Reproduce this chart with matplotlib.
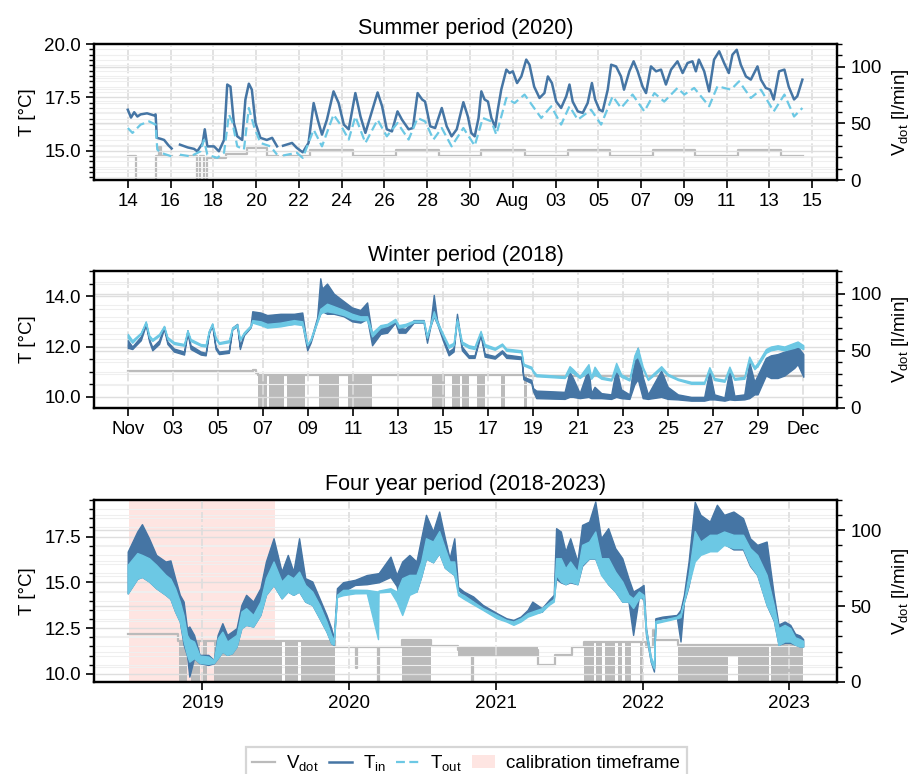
import numpy as np
import pandas as pd
import matplotlib
matplotlib.use('Agg')
import matplotlib.pyplot as plt
from matplotlib.ticker import MultipleLocator, FormatStrFormatter
from matplotlib.lines import Line2D
from matplotlib.patches import Patch

plt.rcParams['font.family'] = ['Liberation Sans', 'DejaVu Sans']
plt.rcParams['mathtext.fontset'] = 'custom'
plt.rcParams['mathtext.rm'] = 'Liberation Sans'
plt.rcParams['mathtext.it'] = 'Liberation Sans'
plt.rcParams['mathtext.default'] = 'regular'

C_IN = '#4575a4'
C_OUT = '#6cc8e4'
C_V = '#bbbbbb'
FS = 13.5

# ---------------- summer period (days after 2020-07-14) ----------------
summer_tin_day = [0.0, 0.15, 0.3, 0.45, 0.6, 0.9, 1.23, 1.3, 1.36, 1.55, 1.7, 1.9, 2.05, 2.25,
                  2.44, 2.8, 3.1, 3.25, 3.5, 3.6, 3.72, 4.03, 4.26, 4.5, 4.65, 4.8, 4.96, 5.12,
                  5.35, 5.5, 5.66, 5.8, 5.97, 6.2, 6.5, 6.75, 6.98, 7.1,
                  7.26, 7.68, 7.9, 8.18, 8.45, 8.69, 8.88, 9.08, 9.31, 9.62, 9.86, 10.1, 10.33,
                  10.64, 10.88, 11.11, 11.34, 11.68, 11.89, 12.11, 12.35, 12.61, 12.82, 13.13,
                  13.33, 13.55, 13.76, 13.9, 14.14, 14.37, 14.68, 14.91, 15.14, 15.38, 15.69,
                  15.9, 16.06, 16.22, 16.4, 16.53, 16.68, 16.84, 17.0, 17.18, 17.3, 17.46, 17.7,
                  17.85, 18.0, 18.2, 18.4, 18.63, 18.78, 19.0, 19.25, 19.48, 19.64, 19.83, 20.03,
                  20.26, 20.5, 20.65, 20.8, 21.04, 21.27, 21.5, 21.7, 21.85, 22.05, 22.2, 22.44,
                  22.6, 22.83, 23.06, 23.2, 23.45, 23.65, 23.84, 24.07, 24.23, 24.46, 24.7, 24.93,
                  25.16, 25.4, 25.7, 25.94, 26.17, 26.4, 26.56, 26.7, 26.95, 27.18, 27.41, 27.65,
                  27.88, 28.1, 28.27, 28.47, 28.66, 28.9, 29.13, 29.44, 29.6, 29.83, 30.03, 30.2,
                  30.45, 30.7, 30.9, 31.15, 31.3, 31.54]
summer_tin = [16.92, 16.55, 16.8, 16.6, 16.7, 16.75, 16.65, 16.7, 15.6, 15.55, 15.5, 15.25, 15.1, np.nan,
              15.28, 15.15, 15.08, 14.97, 15.35, 16.0, 15.2, 15.2, 14.97, 15.5, 18.1, 18.0, 16.3, 15.67,
              15.5, 17.4, 18.14, 17.86, 16.3, 15.6, 15.5, 15.6, 15.2, np.nan,
              15.23, 15.36, 15.13, 14.92, 15.36, 17.23, 16.45, 15.75, 16.45, 17.78, 17.23, 16.22, 16.0,
              17.7, 16.6, 15.83, 16.6, 17.73, 17.08, 16.0, 15.9, 16.84, 16.45, 16.0,
              16.06, 17.7, 17.4, 17.3, 16.14, 16.06, 17.0, 16.14, 15.67, 16.0, 17.27,
              16.6, 15.83, 15.67, 16.53, 17.78, 17.4, 17.3, 16.53, 16.1, 16.92, 17.86, 18.8,
              18.64, 18.72, 18.17, 18.48, 19.27, 19.03, 18.0, 17.47, 17.7, 18.48, 18.17, 17.3,
              17.0, 17.55, 18.1, 17.3, 16.84, 16.77, 17.23, 18.17, 17.4, 16.92, 16.84, 17.86,
              19.03, 18.95, 18.48, 17.86, 18.72, 19.19, 18.72, 18.0, 17.7, 18.95, 18.72, 18.8,
              18.1, 18.8, 19.19, 18.64, 19.11, 19.19, 18.72, 19.27, 18.72, 17.78, 19.27, 19.66,
              19.11, 18.64, 19.5, 19.73, 19.03, 18.48, 18.33, 18.95, 18.33, 17.94, 17.86, 17.4,
              18.72, 18.8, 18.0, 17.4, 17.55, 18.33]

summer_tout_day = [0.0, 0.22, 0.6, 1.0, 1.3, 1.38, 1.54, 2.05, 2.25, 2.44, 2.94, 3.4, 3.56, 3.72,
                   4.18, 4.5, 4.73, 4.88, 5.12, 5.43, 5.66, 5.9, 6.2, 6.67, 6.98, 7.1, 7.26, 7.9,
                   8.18, 8.69, 9.08, 9.62, 9.94, 10.33, 10.64, 11.11, 11.68, 12.11, 12.61, 13.13,
                   13.55, 13.9, 14.29, 14.68, 15.14, 15.69, 16.22, 16.6, 17.0, 17.23, 17.7, 18.08,
                   18.55, 18.94, 19.33, 19.8, 20.26, 20.65, 21.04, 21.66, 22.13, 22.67, 23.06,
                   23.6, 24.15, 24.62, 25.08, 25.7, 26.02, 26.48, 27.18, 27.57, 28.2, 28.58, 29.13,
                   29.6, 30.2, 30.7, 31.15, 31.54]
summer_tout = [16.06, 15.83, 16.22, 16.37, 16.22, 15.05, 14.9, 14.73, np.nan, 14.81, 14.73, 14.97, 15.5, 14.81,
               14.66, 14.9, 16.69, 16.37, 15.2, 15.05, 17.0, 16.14, 15.36, 15.2, 14.81, np.nan, 14.77, 14.9,
               14.66, 15.98, 15.2, 16.69, 16.22, 15.52, 16.6, 15.36, 16.45, 15.67, 16.3, 15.52,
               16.53, 16.37, 15.52, 16.06, 15.2, 16.06, 15.23, 16.53, 16.37, 15.75, 17.47, 17.23,
               17.63, 17.08, 16.53, 17.08, 16.22, 17.08, 16.45, 16.92, 16.22, 17.55, 17.0,
               17.63, 16.84, 17.7, 17.3, 17.94, 17.63, 17.94, 17.08, 18.02, 17.86, 18.25, 17.47,
               17.86, 16.84, 17.63, 16.6, 17.0]

summer_v_day = [0.0, 0.37, 1.34, 1.45, 1.55, 2.05, 2.44, 3.25, 3.4, 3.56, 3.72, 4.57, 5.58, 6.52,
                7.0, 7.26, 8.54, 10.53, 12.55, 14.53, 16.53, 18.55, 20.57, 22.55, 24.57, 26.53,
                28.53, 30.53, 31.58]
summer_v = [21, 0, 21, 29, 21, np.nan, 21, 0, 21, 0, 19.3, 23, 28.6, 21,
            np.nan, 21.3, 26.5, 21, 26.5, 21, 26.5, 21, 26.5, 21, 26.5, 21,
            26.5, 21, 21]

summer_tick_days = [0, 2, 4, 6, 8, 10, 12, 14, 16, 18, 20, 22, 24, 26, 28, 30, 32]
summer_tick_labels = ['14', '16', '18', '20', '22', '24', '26', '28', '30', 'Aug',
                      '03', '05', '07', '09', '11', '13', '15']

# ---------------- winter period (days after 2018-11-01) ----------------
winter_day = [0.0, 0.2, 0.58, 0.8, 0.95, 1.09, 1.39, 1.61, 1.76, 2.05, 2.5, 2.65, 2.79, 3.24, 3.46,
              3.6, 3.75, 3.9, 4.05, 4.49, 4.64, 4.86, 4.98, 5.16, 5.45, 5.53, 5.9, 6.19, 6.78,
              7.38, 7.75, 7.97, 8.12, 8.41, 8.55, 8.63, 8.85, 9.15, 9.59, 9.96, 10.33, 10.63,
              10.85, 11.22, 11.52, 11.88, 12.03, 12.33, 12.7, 13.14, 13.29, 13.44, 13.59, 13.74,
              14.03, 14.25, 14.47, 14.62, 14.84, 15.14, 15.4, 15.67, 15.85, 16.3, 16.62, 16.81,
              17.48, 17.57, 17.92, 18.0, 18.14, 19.4, 19.62, 19.77, 20.07, 20.46, 20.58, 20.73,
              21.03, 21.47, 21.69, 21.91, 22.28, 22.5, 22.65, 22.87, 23.1, 23.69, 23.98, 24.43,
              25.02, 25.6, 25.83, 26.05, 26.5, 26.72, 26.94, 27.38, 27.6, 27.83, 27.97, 28.34,
              28.56, 28.86, 29.16, 29.6, 29.75, 30.0]
winter_tin_lo = [11.95, 11.9, 12.25, 12.85, 12.2, 11.85, 12.1, 12.7, 12.1, 11.8, 11.68, 12.55, 11.9, 11.68, 11.65,
                 12.5, 12.85, 11.9, 11.7, 11.75, 12.68, 12.8, 11.9, 12.45, 12.75, 13.0, 12.95, 12.8, 12.85,
                 12.9, 12.9, 11.85, 12.15, 13.0, 13.3, 13.4, 13.3, 13.3, 13.2, 13.0, 12.95, 13.1,
                 12.05, 12.5, 12.55, 12.95, 12.55, 12.55, 12.95, 12.95, 12.15, 12.8, 13.2, 12.9,
                 12.15, 11.65, 11.8, 13.1, 11.85, 11.55, 11.55, 12.45, 11.6, 11.52, 11.75, 11.55,
                 11.5, 10.7, 10.55, 10.22, 9.95, 9.92, 10.0, 10.0, 9.95, 10.0, 9.95, 9.95,
                 9.95, 9.92, 10.0, 9.95, 9.92, 10.5, 10.7, 9.95, 9.92, 10.0, 9.92, 9.9,
                 9.85, 9.85, 9.9, 9.9, 9.85, 9.9, 9.88, 9.9, 9.95, 10.1, 10.1, 10.85,
                 10.75, 10.75, 10.85, 11.15, 11.3, 10.8]
winter_tin_hi = [12.25, 12.0, 12.4, 12.95, 12.3, 11.98, 12.25, 12.8, 12.2, 11.92, 11.8, 12.65, 12.05, 11.8, 11.75,
                 12.6, 12.9, 12.0, 11.8, 11.85, 12.75, 12.9, 12.0, 12.55, 12.82, 13.4, 13.35, 13.25, 13.3,
                 13.3, 13.35, 12.0, 12.25, 13.15, 14.71, 14.3, 14.5, 14.1, 13.8, 13.55, 13.45, 13.75,
                 12.45, 12.75, 12.8, 13.05, 12.75, 12.7, 13.05, 13.05, 12.3, 12.9, 14.05, 13.05,
                 12.3, 11.8, 11.95, 13.3, 12.0, 11.65, 11.65, 12.55, 11.72, 11.62, 11.85, 11.68,
                 11.6, 10.8, 10.68, 10.35, 10.25, 10.2, 11.0, 10.75, 10.15, 11.15, 10.15, 10.4,
                 10.15, 10.1, 11.15, 10.3, 10.1, 11.55, 11.95, 10.8, 10.1, 11.05, 10.4, 10.1,
                 10.0, 10.0, 11.05, 10.1, 9.98, 11.1, 10.05, 10.1, 11.4, 10.6, 10.85, 11.55,
                 11.65, 11.7, 11.8, 11.95, 12.0, 11.7]
winter_tout_lo = [12.35, 12.15, 12.5, 12.95, 12.35, 12.22, 12.42, 12.78, 12.3, 12.1, 12.03, 12.6, 12.22, 12.03, 12.0,
                  12.57, 12.87, 12.3, 12.1, 12.17, 12.7, 12.82, 12.25, 12.5, 12.78, 12.95, 12.85, 12.75, 12.8,
                  12.9, 12.85, 12.05, 12.25, 12.95, 13.3, 13.35, 13.4, 13.35, 13.25, 13.1, 13.05, 13.05,
                  12.4, 12.75, 12.82, 13.0, 12.75, 12.8, 12.97, 12.97, 12.35, 12.82, 13.25, 12.9,
                  12.35, 11.95, 12.05, 13.0, 12.1, 11.95, 11.9, 12.55, 12.0, 11.87, 12.05, 11.83,
                  11.77, 11.25, 11.12, 10.97, 10.82, 10.75, 11.0, 10.95, 10.75, 11.0, 10.72, 10.9,
                  10.72, 10.65, 11.05, 10.8, 10.65, 11.5, 11.6, 11.1, 10.67, 11.1, 10.85, 10.67,
                  10.52, 10.52, 11.05, 10.67, 10.6, 11.05, 10.68, 10.72, 11.45, 11.1, 11.22, 11.75,
                  11.85, 11.9, 11.85, 11.95, 12.0, 11.9]
winter_tout_hi = [12.5, 12.25, 12.55, 13.0, 12.45, 12.3, 12.5, 12.82, 12.38, 12.18, 12.1, 12.65, 12.3, 12.1, 12.08,
                  12.62, 12.92, 12.38, 12.17, 12.25, 12.76, 12.88, 12.3, 12.56, 12.83, 13.05, 13.0, 12.9, 12.95,
                  13.05, 13.0, 12.1, 12.3, 13.05, 13.5, 13.55, 13.7, 13.6, 13.45, 13.3, 13.2, 13.2,
                  12.55, 12.85, 12.9, 13.1, 12.85, 12.9, 13.03, 13.03, 12.45, 12.9, 13.4, 13.0,
                  12.45, 12.05, 12.15, 13.1, 12.2, 12.05, 12.0, 12.62, 12.1, 11.95, 12.12, 11.92,
                  11.85, 11.32, 11.2, 11.05, 10.9, 10.82, 11.22, 11.1, 10.82, 11.3, 10.8, 11.2,
                  10.8, 10.72, 11.35, 10.9, 10.72, 11.65, 11.95, 11.2, 10.73, 11.22, 10.92, 10.73,
                  10.6, 10.6, 11.18, 10.75, 10.68, 11.2, 10.75, 10.8, 11.6, 11.2, 11.35, 11.9,
                  12.0, 12.05, 12.0, 12.15, 12.2, 12.05]

winter_v_day = [0.0, 5.55, 5.7, 5.8, 17.8, 30.0]
winter_v = [32.7, 33.5, 31.0, 28.8, 28.0, 28.0]
winter_block_start = [5.79, 6.27, 7.08, 8.48, 9.77, 13.51, 14.4, 14.84, 15.51, 16.56, 17.6]
winter_block_end = [6.19, 6.93, 7.89, 9.37, 10.85, 14.1, 14.77, 15.14, 15.88, 16.77, 17.72]
winter_block_top = [29.2, 29.2, 29.2, 29.2, 29.2, 29.2, 29.2, 29.2, 29.2, 29.2, 29.2]

winter_tick_days = [0, 2, 4, 6, 8, 10, 12, 14, 16, 18, 20, 22, 24, 26, 28, 30]
winter_tick_labels = ['Nov', '03', '05', '07', '09', '11', '13', '15', '17', '19', '21',
                      '23', '25', '27', '29', 'Dec']

# ---------------- four year period (decimal years) ----------------
long_year = [2018.49, 2018.555, 2018.587, 2018.635, 2018.684, 2018.748, 2018.781, 2018.813, 2018.845,
             2018.871, 2018.894, 2018.91, 2018.942, 2018.98, 2019.039, 2019.077, 2019.103, 2019.135,
             2019.168, 2019.2, 2019.232, 2019.265, 2019.297, 2019.345, 2019.394, 2019.432, 2019.484,
             2019.539, 2019.581, 2019.619, 2019.658, 2019.7, 2019.748, 2019.797, 2019.845, 2019.877,
             2019.894, 2019.916, 2019.958, 2020.039, 2020.119, 2020.196, 2020.2, 2020.281, 2020.323,
             2020.361, 2020.41, 2020.458, 2020.49, 2020.523, 2020.571, 2020.613, 2020.652, 2020.684,
             2020.716, 2020.742, 2020.781, 2020.845, 2020.91, 2021.006, 2021.071, 2021.119, 2021.168,
             2021.216, 2021.248, 2021.313, 2021.361, 2021.394, 2021.41, 2021.442, 2021.474, 2021.506,
             2021.555, 2021.587, 2021.635, 2021.677, 2021.716, 2021.765, 2021.813, 2021.861, 2021.903,
             2021.935, 2021.974, 2022.006, 2022.023, 2022.055, 2022.077, 2022.087, 2022.135, 2022.232,
             2022.258, 2022.281, 2022.313, 2022.355, 2022.394, 2022.458, 2022.506, 2022.555, 2022.619,
             2022.684, 2022.732, 2022.781, 2022.845, 2022.894, 2022.926, 2022.968, 2023.006, 2023.039,
             2023.071, 2023.094]
long_tin_lo = [14.4, 15.2, 15.3, 15.05, 14.68, 14.32, 14.1, 13.41, 12.86,
               11.6, 11.0, 9.85, 10.86, 10.58, 10.49, 10.58, 10.86, 11.22,
               11.04, 11.13, 11.5, 12.5, 12.68, 12.59, 13.22, 14.32, 14.86,
               14.13, 14.5, 14.32, 14.5, 13.95, 13.77, 13.04, 12.31, 11.68,
               11.58, 14.2, 14.5, 14.86, 14.9, 15.0, 15.0, 15.3, 14.8,
               13.4, 14.5, 14.5, 15.3, 16.3, 16.1, 16.6, 15.8, 15.6,
               15.4, 14.6, 14.3, 14.0, 13.6, 13.2, 12.95, 12.86, 13.0,
               13.2, 13.3, 13.4, 13.9, 14.1, 15.2, 15.0, 14.9, 15.0,
               14.9, 15.9, 16.3, 16.3, 15.5, 14.9, 14.5, 13.95, 13.95,
               12.13, 14.2, 14.1, 12.13, 10.67, 10.13, 12.95, 13.04, 13.13,
               11.77, 13.9, 14.8, 16.5, 16.6, 16.8, 16.8, 17.1, 16.8,
               16.8, 15.9, 15.4, 13.77, 12.9, 11.6, 11.7, 11.7, 11.6,
               11.5, 11.5]
long_tin_hi = [16.68, 17.78, 18.18, 17.41, 16.5, 16.14, 16.2, 15.23, 14.32,
               13.95, 12.5, 12.59, 12.13, 11.04, 11.04, 10.76, 12.13, 12.77,
               12.13, 12.31, 12.5, 13.77, 14.32, 13.95, 14.68, 16.14, 17.41,
               15.59, 16.5, 15.59, 17.41, 15.23, 15.05, 14.13, 13.22, 12.5,
               11.95, 14.68, 15.01, 15.14, 15.4, 15.5, 15.5, 16.41, 15.41,
               16.14, 16.5, 16.14, 17.41, 18.69, 17.78, 18.87, 17.41, 16.32,
               17.41, 14.75, 14.5, 14.23, 13.77, 13.32, 13.04, 12.95, 13.13,
               13.5, 13.95, 13.59, 14.04, 14.32, 17.96, 17.78, 16.69, 17.41,
               16.14, 18.14, 18.32, 19.42, 17.41, 17.96, 16.87, 16.32, 15.23,
               14.5, 14.68, 14.86, 12.5, 10.9, 10.3, 13.04, 13.13, 13.22,
               13.5, 14.32, 16.14, 19.4, 18.69, 18.32, 19.24, 18.69, 18.87,
               18.51, 17.41, 17.05, 17.23, 14.32, 12.7, 12.86, 12.68, 12.2,
               12.1, 11.9]
long_tout_lo = [14.4, 15.2, 15.3, 15.05, 14.68, 14.32, 14.1, 13.41, 12.86,
                11.77, 11.04, 10.67, 10.86, 10.6, 10.55, 10.6, 10.86, 11.22,
                11.04, 11.13, 11.5, 12.5, 12.68, 12.59, 13.22, 14.32, 14.86,
                14.13, 14.5, 14.32, 14.5, 13.95, 13.77, 13.04, 12.31, 11.68,
                11.6, 14.2, 14.3, 14.4, 14.41, 11.9, 14.45, 14.5, 13.95,
                13.22, 14.32, 14.5, 15.3, 16.3, 16.1, 16.6, 15.8, 15.59,
                15.41, 14.3, 14.1, 13.8, 13.5, 13.04, 12.86, 12.68, 12.86,
                13.13, 13.22, 13.41, 13.77, 13.95, 15.41, 15.05, 14.9, 15.05,
                14.9, 15.96, 16.32, 16.32, 15.41, 14.9, 14.5, 13.95, 13.95,
                13.6, 14.13, 14.2, 12.2, 10.7, 10.3, 12.77, 12.86, 13.04,
                13.1, 13.95, 14.86, 16.14, 16.5, 16.7, 16.7, 17.05, 16.87,
                16.87, 15.96, 15.41, 13.77, 12.95, 11.58, 11.77, 11.77, 11.6,
                11.5, 11.5]
long_tout_hi = [15.96, 16.6, 16.5, 16.32, 15.96, 15.41, 15.2, 14.68, 13.95,
                13.2, 12.13, 11.9, 11.77, 11.0, 10.95, 10.75, 11.95, 12.31,
                11.77, 11.95, 12.13, 13.41, 13.59, 13.22, 13.95, 15.23, 16.14,
                15.05, 15.41, 15.23, 15.59, 14.86, 14.5, 13.77, 12.86, 12.13,
                11.8, 14.32, 14.59, 14.6, 14.59, 14.5, 14.55, 14.68, 14.5,
                15.23, 15.41, 15.41, 16.14, 17.41, 17.23, 17.8, 16.87, 16.14,
                16.14, 14.45, 14.3, 13.95, 13.6, 13.22, 12.95, 12.86, 13.04,
                13.32, 13.41, 13.59, 13.9, 14.1, 16.32, 16.32, 15.77, 16.14,
                15.59, 17.05, 17.23, 17.78, 16.32, 16.32, 15.59, 15.05, 14.32,
                14.13, 14.5, 14.32, 12.4, 10.95, 10.5, 12.9, 12.95, 13.13,
                13.3, 13.95, 15.41, 17.8, 17.23, 17.6, 17.6, 17.78, 17.6,
                17.6, 16.87, 16.5, 15.41, 13.77, 12.5, 12.68, 12.5, 12.0,
                11.9, 11.8]

long_v_year = [2018.49, 2018.83, 2019.9, 2020.048, 2020.052, 2020.195, 2020.2, 2020.36, 2020.555,
               2020.74, 2020.838, 2020.842, 2021.29, 2021.4, 2021.52, 2021.6, 2022.02, 2022.07,
               2022.075, 2022.24, 2023.094]
long_v = [31.7, 27.1, 23.3, 9.0, 23.3, 0.0, 23.3, 28.0, 24.0,
          21.0, 0.0, 21.0, 11.2, 17.5, 23.3, 26.5, 23.0, 34.0,
          27.8, 24.5, 24.5]
long_block_start = [2018.839, 2018.919, 2019.006, 2019.081, 2019.561, 2019.671, 2020.361, 2020.74,
                    2021.6, 2021.68, 2021.74, 2021.83, 2021.88, 2021.98, 2022.24, 2022.58, 2022.65, 2022.875]
long_block_end = [2018.897, 2018.981, 2019.032, 2019.539, 2019.652, 2019.903, 2020.555, 2021.29,
                  2021.67, 2021.72, 2021.81, 2021.86, 2021.92, 2022.0, 2022.58, 2022.65, 2022.86, 2023.094]
long_block_bottom = [0, 0, 0, 0, 0, 0, 0, 16.7,
                     0, 0, 0, 0, 0, 0, 0, 17.0, 0, 0]
long_block_top = [27.1, 27.1, 27.1, 27.1, 27.1, 27.1, 28.4, 23.3,
                  26.5, 26.5, 26.5, 26.5, 26.5, 26.5, 24.5, 24.5, 24.5, 24.5]
calib_start, calib_end = '2018-07-01', '2019-07-01'
long_tick_years = [2019, 2020, 2021, 2022, 2023]


def days_to_dt(start, days):
    return pd.Timestamp(start) + pd.to_timedelta(np.asarray(days, float), unit='D')


def years_to_dt(years):
    return pd.Timestamp('2018-01-01') + pd.to_timedelta((np.asarray(years, float) - 2018) * 365.25, unit='D')


fig = plt.figure(figsize=(9.16, 7.74), dpi=100)
axes = [fig.add_axes([0.1026, 0.7674, 0.8112, 0.1757]),
        fig.add_axes([0.1026, 0.4729, 0.8112, 0.1770]),
        fig.add_axes([0.1026, 0.1189, 0.8112, 0.2351])]
twins = []
for ax in axes:
    axr = ax.twinx()
    ax.set_zorder(axr.get_zorder() + 1)
    ax.patch.set_visible(False)
    twins.append(axr)


def style(ax, axr, title, ylim, major, minor, fmt):
    ax.set_title(title, fontsize=15.5, pad=7)
    ax.set_ylim(*ylim)
    ax.yaxis.set_major_locator(MultipleLocator(major))
    ax.yaxis.set_minor_locator(MultipleLocator(minor))
    ax.yaxis.set_major_formatter(FormatStrFormatter(fmt))
    axr.set_ylim(0, 120)
    axr.yaxis.set_major_locator(MultipleLocator(50))
    axr.yaxis.set_minor_locator(MultipleLocator(10))
    ax.set_ylabel('T [°C]', fontsize=FS, labelpad=6)
    axr.set_ylabel('V$_{dot}$ [l/min]', fontsize=FS, labelpad=6)
    for a in (ax, axr):
        a.tick_params(which='major', length=6, width=1.2, labelsize=FS)
        a.tick_params(which='minor', length=3.5, width=1.0)
        for s in a.spines.values():
            s.set_linewidth(1.6)
    axr.yaxis.grid(True, which='major', color='#dedede', lw=1.0)
    axr.yaxis.grid(True, which='minor', color='#efefef', lw=0.8)
    ax.yaxis.grid(True, which='major', color='#dedede', lw=1.0)
    ax.yaxis.grid(True, which='minor', color='#efefef', lw=0.8)
    ax.xaxis.grid(True, which='major', color='#dddddd', lw=1.2, ls=(0, (6, 2)))
    ax.set_axisbelow(True)
    axr.set_axisbelow(True)


# ---- summer ----
ax, axr = axes[0], twins[0]
axr.plot(days_to_dt('2020-07-14', summer_v_day), summer_v, color=C_V, lw=1.6, drawstyle='steps-post')
ax.plot(days_to_dt('2020-07-14', summer_tin_day), summer_tin, color=C_IN, lw=1.8)
ax.plot(days_to_dt('2020-07-14', summer_tout_day), summer_tout, color=C_OUT, lw=1.6, dashes=(4, 2))
style(ax, axr, 'Summer period (2020)', (13.62, 20.0), 2.5, 0.25, '%.1f')
ax.set_xticks(days_to_dt('2020-07-14', summer_tick_days))
ax.set_xticklabels(summer_tick_labels)
ax.set_xlim(days_to_dt('2020-07-14', [-1.58, 33.16]))

# ---- winter ----
ax, axr = axes[1], twins[1]
for s, e, top in zip(winter_block_start, winter_block_end, winter_block_top):
    axr.fill_between(days_to_dt('2018-11-01', [s, e]), 0, top, color=C_V, lw=0)
axr.plot(days_to_dt('2018-11-01', winter_v_day), winter_v, color=C_V, lw=1.6, drawstyle='steps-post')
wx = days_to_dt('2018-11-01', winter_day)
ax.fill_between(wx, winter_tin_lo, winter_tin_hi, color=C_IN, lw=1.0)
ax.fill_between(wx, winter_tout_lo, winter_tout_hi, color=C_OUT, lw=1.0)
style(ax, axr, 'Winter period (2018)', (9.56, 15.0), 2.0, 0.5, '%.1f')
ax.set_xticks(days_to_dt('2018-11-01', winter_tick_days))
ax.set_xticklabels(winter_tick_labels)
ax.set_xlim(days_to_dt('2018-11-01', [-1.5, 31.5]))

# ---- four years ----
ax, axr = axes[2], twins[2]
axr.axvspan(pd.Timestamp(calib_start), pd.Timestamp(calib_end), color='salmon', alpha=0.2, lw=0, zorder=0.1)
for s, e, b, top in zip(long_block_start, long_block_end, long_block_bottom, long_block_top):
    axr.fill_between(years_to_dt([s, e]), b, top, color=C_V, lw=0)
axr.plot(years_to_dt(long_v_year), long_v, color=C_V, lw=1.6, drawstyle='steps-post')
lx = years_to_dt(long_year)
ax.fill_between(lx, long_tin_lo, long_tin_hi, color=C_IN, lw=1.0)
ax.fill_between(lx, long_tout_lo, long_tout_hi, color=C_OUT, lw=1.0)
style(ax, axr, 'Four year period (2018-2023)', (9.56, 19.5), 2.5, 0.5, '%.1f')
ax.set_xticks([pd.Timestamp(f'{y}-01-01') for y in long_tick_years])
ax.set_xticklabels([str(y) for y in long_tick_years])
ax.set_xlim(years_to_dt([2018.26, 2023.325]))

handles = [Line2D([], [], color=C_V, lw=1.6),
           Line2D([], [], color=C_IN, lw=1.8),
           Line2D([], [], color=C_OUT, lw=1.6, dashes=(4, 2)),
           Patch(facecolor='salmon', alpha=0.2, edgecolor='none')]
labels = ['V$_{dot}$', 'T$_{in}$', 'T$_{out}$', 'calibration timeframe']
leg = fig.legend(handles, labels, loc='upper center', bbox_to_anchor=(0.509, 0.0475), ncol=4,
                 fontsize=FS, frameon=True, fancybox=False, edgecolor='#cccccc',
                 handlelength=1.2, handletextpad=0.6, columnspacing=0.55, borderpad=0.35)
leg.get_frame().set_linewidth(1.6)

fig.savefig('out.png', dpi=100)
